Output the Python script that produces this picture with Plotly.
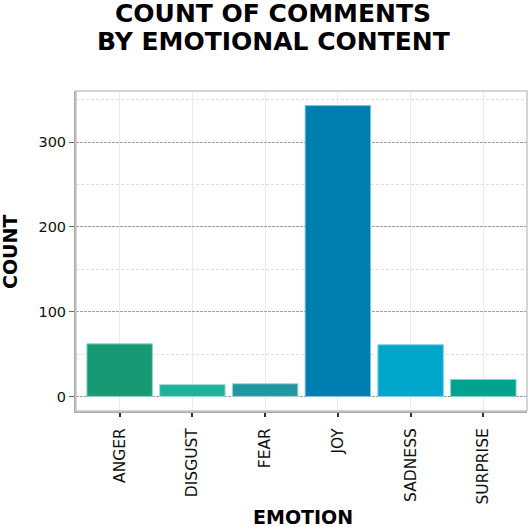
import plotly.graph_objects as go

emotions = ["ANGER", "DISGUST", "FEAR", "JOY", "SADNESS", "SURPRISE"]
counts = [62, 14, 15, 343, 61, 20]
colors = ["#179a73", "#1fb19c", "#23979f", "#017eb0", "#00a6c9", "#00a290"]
outline = ["#8fd6c0", "#9fe0d4", "#9fd5d8", "#80c4e0", "#80d6ea", "#80d6cc"]
title_lines = ["COUNT OF COMMENTS", "BY EMOTIONAL CONTENT"]

FONT = "DejaVu Sans"
W, H = 529, 527
L, R, T, B = 76, 2, 91, 116

def px_x(px):
    return (px - L) / (W - L - R)

def px_y(py):
    return (H - B - py) / (H - T - B)

fig = go.Figure(go.Bar(
    x=emotions, y=counts, width=0.9,
    marker=dict(color=colors, line=dict(color=outline, width=1)),
))

annotations = [
    dict(text=title_lines[0], x=px_x(273), y=px_y(13), xref="paper", yref="paper",
         xanchor="center", yanchor="middle", showarrow=False,
         font=dict(family=FONT, size=25, weight="bold", color="black")),
    dict(text=title_lines[1], x=px_x(273), y=px_y(41), xref="paper", yref="paper",
         xanchor="center", yanchor="middle", showarrow=False,
         font=dict(family=FONT, size=25, weight="bold", color="black")),
    dict(text="EMOTION", x=px_x(303), y=px_y(517), xref="paper", yref="paper",
         xanchor="center", yanchor="middle", showarrow=False,
         font=dict(family=FONT, size=19, weight="bold", color="black")),
    dict(text="COUNT", x=px_x(10), y=px_y(252), xref="paper", yref="paper",
         xanchor="center", yanchor="middle", showarrow=False, textangle=-90,
         font=dict(family=FONT, size=19, weight="bold", color="black")),
]

fig.update_layout(
    width=W, height=H,
    margin=dict(l=L, r=R, t=T, b=B),
    plot_bgcolor="white", paper_bgcolor="white",
    showlegend=False,
    font=dict(family=FONT, color="black", size=14),
    annotations=annotations,
    xaxis=dict(
        range=[-0.6, 5.6], tickangle=-90,
        showgrid=True, gridcolor="#ebebeb", gridwidth=1,
        ticks="outside", ticklen=4, tickcolor="#333", tickwidth=1.5,
        showline=True, linecolor="#aaaaaa", linewidth=2,
        ticklabelstandoff=5,
        tickfont=dict(family=FONT, size=15.5, color="#111"),
    ),
    yaxis=dict(
        range=[-17.15, 360.15], tickvals=[0, 100, 200, 300],
        showgrid=True, gridcolor="#a0a0a0", griddash="3px,1px", gridwidth=1,
        minor=dict(tickvals=[50, 150, 250, 350], showgrid=True, gridcolor="#dedede",
                   griddash="3px,2px", ticks=""),
        zeroline=False,
        ticks="outside", ticklen=5, tickcolor="#666", tickwidth=1,
        showline=True, linecolor="#aaaaaa", linewidth=2,
        tickfont=dict(family=FONT, size=14.5, color="#111"),
    ),
    shapes=[dict(type="rect", xref="paper", yref="paper", x0=0, x1=1, y0=0, y1=1,
                 line=dict(color="#c8c8c8", width=1.5), layer="above")],
)

fig.write_html("out.html", config={"displayModeBar": False},
               post_script="document.body.style.margin='0';")
